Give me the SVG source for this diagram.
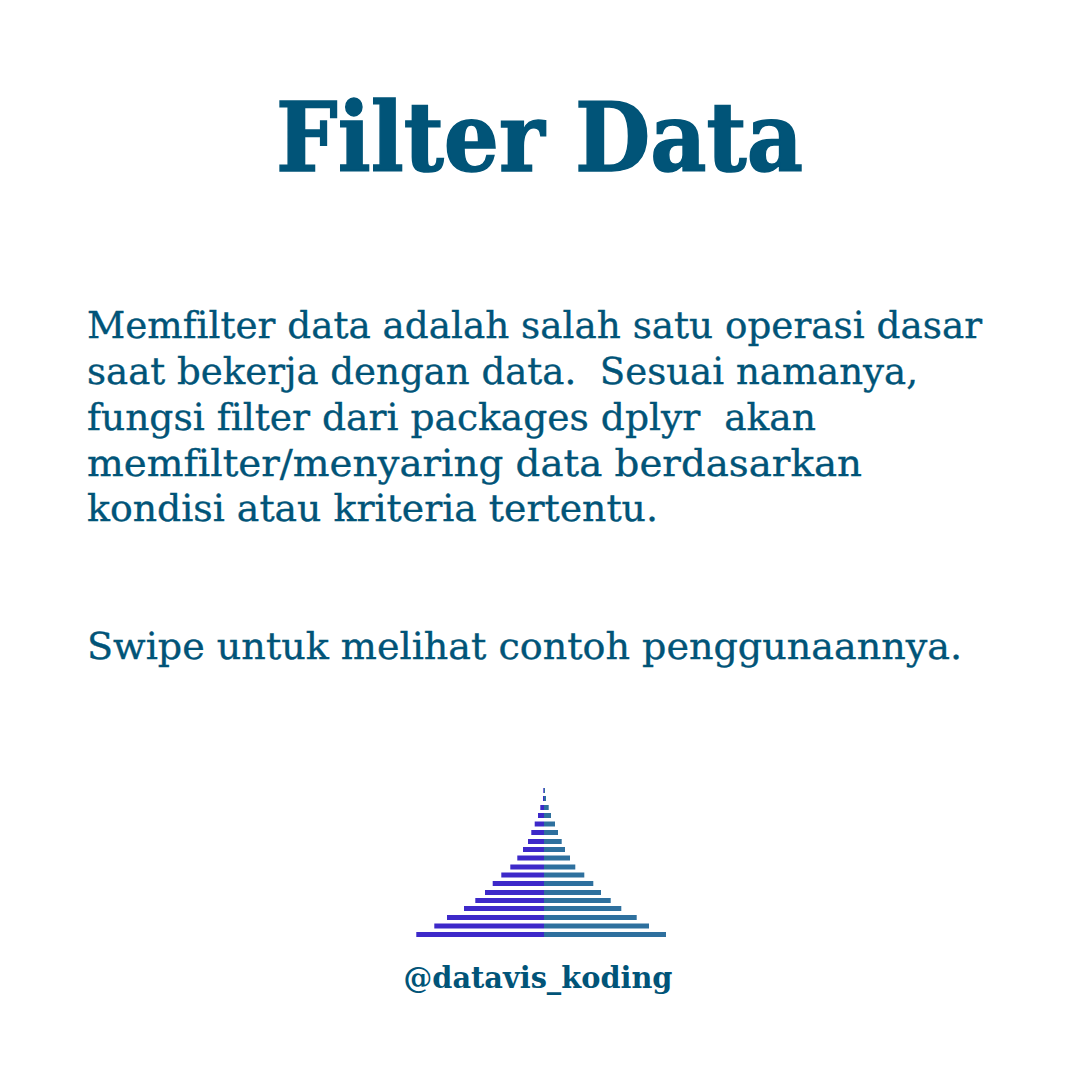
<svg xmlns="http://www.w3.org/2000/svg" width="1080" height="1080" viewBox="0 0 1080 1080">
<style>
text{font-family:"DejaVu Serif","Liberation Serif",serif;fill:#015478;font-variant-ligatures:none}
.b{font-size:37px;stroke:#015478;stroke-width:.35px}
.h{stroke:#015478;stroke-width:1.6px}
.l{fill:#3d29c9}
.r{fill:#2e709e}
</style>
<rect width="1080" height="1080" fill="#fff"/>
<text class="h" x="276" y="171" font-size="96" font-weight="700" textLength="527" lengthAdjust="spacingAndGlyphs">Filter Data</text>
<text class="b" x="87" y="338" textLength="895" lengthAdjust="spacingAndGlyphs">Memfilter data adalah salah satu operasi dasar</text>
<text class="b" x="87" y="384" textLength="831" lengthAdjust="spacingAndGlyphs" xml:space="preserve">saat bekerja dengan data.  Sesuai namanya,</text>
<text class="b" x="87" y="430" textLength="729" lengthAdjust="spacingAndGlyphs" xml:space="preserve">fungsi filter dari packages dplyr  akan</text>
<text class="b" x="87" y="475.5" textLength="775" lengthAdjust="spacingAndGlyphs">memfilter/menyaring data berdasarkan</text>
<text class="b" x="87" y="521" textLength="571" lengthAdjust="spacingAndGlyphs">kondisi atau kriteria tertentu.</text>
<text class="b" x="87" y="659" textLength="875" lengthAdjust="spacingAndGlyphs">Swipe untuk melihat contoh penggunaannya.</text>
<g id="chart">
<g class="l">
<rect x="543.3" y="788" width="0.7" height="5"/>
<rect x="543" y="796" width="1" height="5"/>
<rect x="540.3" y="805" width="3.7" height="5"/>
<rect x="538" y="813" width="6" height="5"/>
<rect x="534.7" y="821.5" width="9.3" height="5"/>
<rect x="531.3" y="830" width="12.7" height="5"/>
<rect x="528" y="839" width="16" height="5"/>
<rect x="523" y="847" width="21" height="5"/>
<rect x="517.3" y="855.5" width="26.7" height="5"/>
<rect x="510.3" y="864.5" width="33.7" height="5"/>
<rect x="501.3" y="872.5" width="42.7" height="5"/>
<rect x="492.7" y="881" width="51.3" height="5"/>
<rect x="485" y="890" width="59" height="5"/>
<rect x="475.3" y="898" width="68.7" height="5"/>
<rect x="464" y="906" width="80" height="5"/>
<rect x="447" y="915" width="97" height="5"/>
<rect x="434.3" y="923.5" width="109.7" height="5"/>
<rect x="416.3" y="932" width="127.7" height="5"/>
</g>
<g class="r">
<rect x="544" y="788" width="1" height="5"/>
<rect x="544" y="796" width="2" height="5"/>
<rect x="544" y="805" width="4.7" height="5"/>
<rect x="544" y="813" width="7" height="5"/>
<rect x="544" y="821.5" width="11" height="5"/>
<rect x="544" y="830" width="14" height="5"/>
<rect x="544" y="839" width="17.7" height="5"/>
<rect x="544" y="847" width="21" height="5"/>
<rect x="544" y="855.5" width="26" height="5"/>
<rect x="544" y="864.5" width="31.3" height="5"/>
<rect x="544" y="872.5" width="40.3" height="5"/>
<rect x="544" y="881" width="49.3" height="5"/>
<rect x="544" y="890" width="57" height="5"/>
<rect x="544" y="898" width="66.7" height="5"/>
<rect x="544" y="906" width="77.3" height="5"/>
<rect x="544" y="915" width="92.7" height="5"/>
<rect x="544" y="923.5" width="105" height="5"/>
<rect x="544" y="932" width="122" height="5"/>
</g>
</g>
<text x="403.500" y="988" font-size="29" font-weight="700" textLength="269" lengthAdjust="spacingAndGlyphs">@datavis_koding</text>
</svg>
